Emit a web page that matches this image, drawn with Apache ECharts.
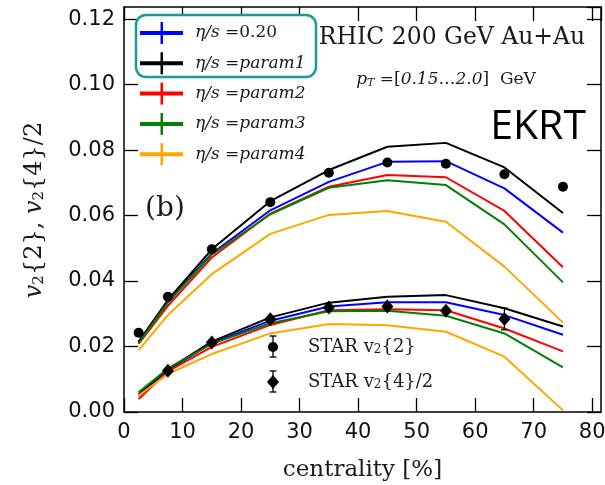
<!DOCTYPE html>
<html>
<head>
<meta charset="utf-8">
<script src="https://cdn.jsdelivr.net/npm/echarts@6/dist/echarts.min.js"></script>
<style>
  html, body { margin: 0; padding: 0; background: #fff; }
  #chart { width: 605px; height: 485px; }
</style>
</head>
<body>
<div id="chart"></div>
<script>
// Centrality bins (%)
const centrality = [2.5, 7.5, 15, 25, 35, 45, 55, 65, 75];
const xTickValues = [0, 10, 20, 30, 40, 50, 60, 70, 80];
const yTickValues = [0, 0.02, 0.04, 0.06, 0.08, 0.10, 0.12];

// Hydro v2{2} for each eta/s parametrisation
const v22_eta020 = [0.0212, 0.0338, 0.0484, 0.0616, 0.0703, 0.0764, 0.0766, 0.0683, 0.0548];
const v22_param1 = [0.0215, 0.0342, 0.0497, 0.0644, 0.0739, 0.0810, 0.0822, 0.0747, 0.0608];
const v22_param2 = [0.0208, 0.0324, 0.0472, 0.0606, 0.0688, 0.0724, 0.0717, 0.0614, 0.0442];
const v22_param3 = [0.0210, 0.0334, 0.0481, 0.0604, 0.0685, 0.0708, 0.0693, 0.0573, 0.0396];
const v22_param4 = [0.0189, 0.0296, 0.0421, 0.0544, 0.0602, 0.0614, 0.0581, 0.0444, 0.0273];

// Hydro v2{4}/2 for each eta/s parametrisation
const v24_eta020 = [0.0050, 0.0128, 0.0210, 0.0279, 0.0322, 0.0335, 0.0335, 0.0296, 0.0236];
const v24_param1 = [0.0055, 0.0130, 0.0215, 0.0289, 0.0334, 0.0352, 0.0357, 0.0317, 0.0261];
const v24_param2 = [0.0040, 0.0124, 0.0199, 0.0266, 0.0311, 0.0314, 0.0311, 0.0255, 0.0185];
const v24_param3 = [0.0060, 0.0133, 0.0208, 0.0271, 0.0308, 0.0309, 0.0294, 0.0240, 0.0136];
const v24_param4 = [0.0050, 0.0116, 0.0177, 0.0240, 0.0269, 0.0265, 0.0245, 0.0169, 0.0005];

// STAR measurements
const starV22 = [0.0242, 0.0352, 0.0497, 0.0641, 0.0731, 0.0762, 0.0758, 0.0726, 0.0688];
const starV22Err = [0.0004, 0.0004, 0.0005, 0.0005, 0.0005, 0.0006, 0.0006, 0.0007, 0.0008];
const starV24Centrality = [7.5, 15, 25, 35, 45, 55, 65];
const starV24 = [0.0126, 0.0212, 0.0283, 0.0319, 0.0322, 0.0309, 0.0284];
const starV24Err = [0.0004, 0.0004, 0.0005, 0.0005, 0.0006, 0.0008, 0.0033];

const modelNames = ['0.20', 'param1', 'param2', 'param3', 'param4'];
const modelColors = ['#0000ff', '#000000', '#ff0000', '#008000', '#ffa500'];
const modelV22 = [v22_eta020, v22_param1, v22_param2, v22_param3, v22_param4];
const modelV24 = [v24_eta020, v24_param1, v24_param2, v24_param3, v24_param4];

const SERIF = '"DejaVu Serif", serif';
const TXT = '#1a1a1a';

const pairs = (xs, ys) => xs.map((x, i) => [x, ys[i]]);

const series = [];
modelNames.forEach((name, k) => {
  [modelV22[k], modelV24[k]].forEach((vals) => {
    series.push({
      type: 'line',
      name: name,
      data: pairs(centrality, vals),
      symbol: 'none',
      lineStyle: { color: modelColors[k], width: 2, opacity: 1 },
      itemStyle: { color: modelColors[k] },
      z: 3 + k * 0.1
    });
  });
});

// Error bars drawn through the axis scales
function errorBarSeries(xs, ys, errs) {
  return {
    type: 'custom',
    data: xs.map((x, i) => [x, ys[i] - errs[i], ys[i] + errs[i]]),
    z: 6,
    renderItem: function (params, api) {
      const lo = api.coord([api.value(0), api.value(1)]);
      const hi = api.coord([api.value(0), api.value(2)]);
      const cap = 3.5;
      const st = { stroke: '#000', lineWidth: 1.3 };
      return {
        type: 'group',
        children: [
          { type: 'line', shape: { x1: lo[0], y1: lo[1], x2: hi[0], y2: hi[1] }, style: st },
          { type: 'line', shape: { x1: lo[0] - cap, y1: lo[1], x2: lo[0] + cap, y2: lo[1] }, style: st },
          { type: 'line', shape: { x1: hi[0] - cap, y1: hi[1], x2: hi[0] + cap, y2: hi[1] }, style: st }
        ]
      };
    }
  };
}

series.push(errorBarSeries(centrality, starV22, starV22Err));
series.push(errorBarSeries(starV24Centrality, starV24, starV24Err));
series.push({
  type: 'scatter',
  name: 'STAR v2{2}',
  data: pairs(centrality, starV22),
  symbol: 'circle',
  symbolSize: 10,
  itemStyle: { color: '#000', opacity: 1 },
  z: 7
});
series.push({
  type: 'scatter',
  name: 'STAR v2{4}/2',
  data: pairs(starV24Centrality, starV24),
  symbol: 'diamond',
  symbolSize: [12, 14],
  itemStyle: { color: '#000', opacity: 1 },
  z: 7
});

// Graphic overlays: legends and annotations
const graphics = [];

// teal frame around the first two legend entries
graphics.push({
  type: 'rect', z: 50,
  shape: { x: 136, y: 15, width: 180, height: 62, r: 10 },
  style: { fill: '#fff', stroke: '#1a9a9a', lineWidth: 2.5 }
});

const legRich = {
  i: { fontFamily: SERIF, fontStyle: 'italic', fontSize: 17, fill: TXT },
  r: { fontFamily: SERIF, fontSize: 17, fill: TXT }
};
modelNames.forEach((name, k) => {
  const cy = 33 + k * 30.3;
  graphics.push({ type: 'rect', z: 51, shape: { x: 140, y: cy - 2, width: 43, height: 4 }, style: { fill: modelColors[k] } });
  graphics.push({ type: 'rect', z: 51, shape: { x: 160.5, y: cy - 11, width: 2.5, height: 22 }, style: { fill: modelColors[k] } });
  const label = /^\d/.test(name) ? '{i|η/s} {r|=' + name + '}' : '{i|η/s} {r|=}{i|' + name + '}';
  graphics.push({
    type: 'text', z: 51,
    style: { x: 195, y: cy, text: label, rich: legRich, align: 'left', verticalAlign: 'middle', font: '17px ' + SERIF, fill: TXT }
  });
});

// STAR legend
function starLegend(cy, diamond, text) {
  const st = { stroke: '#000', lineWidth: 1.3 };
  graphics.push({ type: 'line', z: 51, shape: { x1: 273, y1: cy - 11, x2: 273, y2: cy + 10 }, style: st });
  graphics.push({ type: 'line', z: 51, shape: { x1: 269.5, y1: cy - 11, x2: 276.5, y2: cy - 11 }, style: st });
  graphics.push({ type: 'line', z: 51, shape: { x1: 269.5, y1: cy + 10, x2: 276.5, y2: cy + 10 }, style: st });
  if (diamond) {
    graphics.push({ type: 'polygon', z: 52, shape: { points: [[273, cy - 7], [279, cy], [273, cy + 7], [267, cy]] }, style: { fill: '#000' } });
  } else {
    graphics.push({ type: 'circle', z: 52, shape: { cx: 273, cy: cy, r: 5 }, style: { fill: '#000' } });
  }
  graphics.push({
    type: 'text', z: 51,
    style: {
      x: 308, y: cy, text: text, align: 'left', verticalAlign: 'middle',
      font: '18px ' + SERIF, fill: TXT,
      rich: {
        s: { fontFamily: SERIF, fontSize: 12, fill: TXT, verticalAlign: 'bottom', lineHeight: 10 }
      }
    }
  });
}
starLegend(347, false, 'STAR v{s|2}{2}');
starLegend(382, true, 'STAR v{s|2}{4}/2');

graphics.push({
  type: 'text', z: 51,
  style: { x: 452, y: 38, text: 'RHIC 200 GeV Au+Au', align: 'center', verticalAlign: 'middle', font: '23.5px ' + SERIF, fill: TXT }
});
graphics.push({
  type: 'text', z: 51,
  style: {
    x: 446, y: 80, text: '{i|p}{s|T}{r| =[}{i|0.15…2.0}{r|]  GeV}', align: 'center', verticalAlign: 'middle',
    font: '17px ' + SERIF, fill: TXT,
    rich: {
      i: { fontFamily: SERIF, fontStyle: 'italic', fontSize: 17, fill: TXT },
      r: { fontFamily: SERIF, fontSize: 17, fill: TXT },
      s: { fontFamily: SERIF, fontStyle: 'italic', fontSize: 11, fill: TXT, verticalAlign: 'bottom', lineHeight: 8 }
    }
  }
});
graphics.push({
  type: 'text', z: 51,
  style: { x: 586, y: 127, text: 'EKRT', align: 'right', verticalAlign: 'middle', font: '41px "Open Sans", sans-serif', fill: '#000' }
});
graphics.push({
  type: 'text', z: 51,
  style: { x: 165, y: 209, text: '(b)', align: 'center', verticalAlign: 'middle', font: '28px ' + SERIF, fill: TXT }
});
// y-axis title
graphics.push({
  type: 'text', z: 51, x: 35, y: 210, rotation: Math.PI / 2,
  style: {
    x: 0, y: 0, text: '{i|v}{s|2}{2}, {i|v}{s|2}{4}/2', align: 'center', verticalAlign: 'middle',
    font: '24px ' + SERIF, fill: TXT,
    rich: {
      i: { fontFamily: SERIF, fontStyle: 'italic', fontSize: 24, fill: TXT },
      s: { fontFamily: SERIF, fontSize: 15, fill: TXT, verticalAlign: 'bottom', lineHeight: 12 }
    }
  }
});

const frameLine = { lineStyle: { color: '#000', width: 1.5 } };
const tickStyle = { inside: true, length: 14, lineStyle: { color: '#000', width: 1.3 } };
const labelFont = { fontFamily: '"DejaVu Sans", sans-serif', fontSize: 21, color: '#111' };

const option = {
  animation: false,
  backgroundColor: '#fff',
  grid: { left: 124, right: 4, top: 7, bottom: 73, containLabel: false, outerBoundsMode: 'none' },
  xAxis: [
    {
      type: 'value', min: 0, max: 81.5, interval: 10, position: 'bottom',
      axisLine: Object.assign({ show: true, onZero: false }, frameLine),
      axisTick: tickStyle,
      axisLabel: Object.assign({ margin: 10, showMaxLabel: false, formatter: (v) => String(v) }, labelFont),
      splitLine: { show: false },
      name: 'centrality [%]', nameLocation: 'middle', nameGap: 47,
      nameTextStyle: { fontFamily: SERIF, fontSize: 23, color: TXT }
    },
    {
      type: 'value', min: 0, max: 81.5, interval: 10, position: 'top',
      axisLine: Object.assign({ show: true, onZero: false }, frameLine),
      axisTick: tickStyle, axisLabel: { show: false }, splitLine: { show: false }
    }
  ],
  yAxis: [
    {
      type: 'value', min: 0, max: 0.1237, interval: 0.02, position: 'left',
      axisLine: Object.assign({ show: true, onZero: false }, frameLine),
      axisTick: tickStyle,
      axisLabel: Object.assign({ margin: 9, showMaxLabel: false, formatter: (v) => v.toFixed(2) }, labelFont),
      splitLine: { show: false }
    },
    {
      type: 'value', min: 0, max: 0.1237, interval: 0.02, position: 'right',
      axisLine: Object.assign({ show: true, onZero: false }, frameLine),
      axisTick: tickStyle, axisLabel: { show: false }, splitLine: { show: false }
    }
  ],
  series: series,
  graphic: { elements: graphics }
};

const chart = echarts.init(document.getElementById('chart'), null, { renderer: 'canvas' });
chart.setOption(option);
</script>
</body>
</html>
